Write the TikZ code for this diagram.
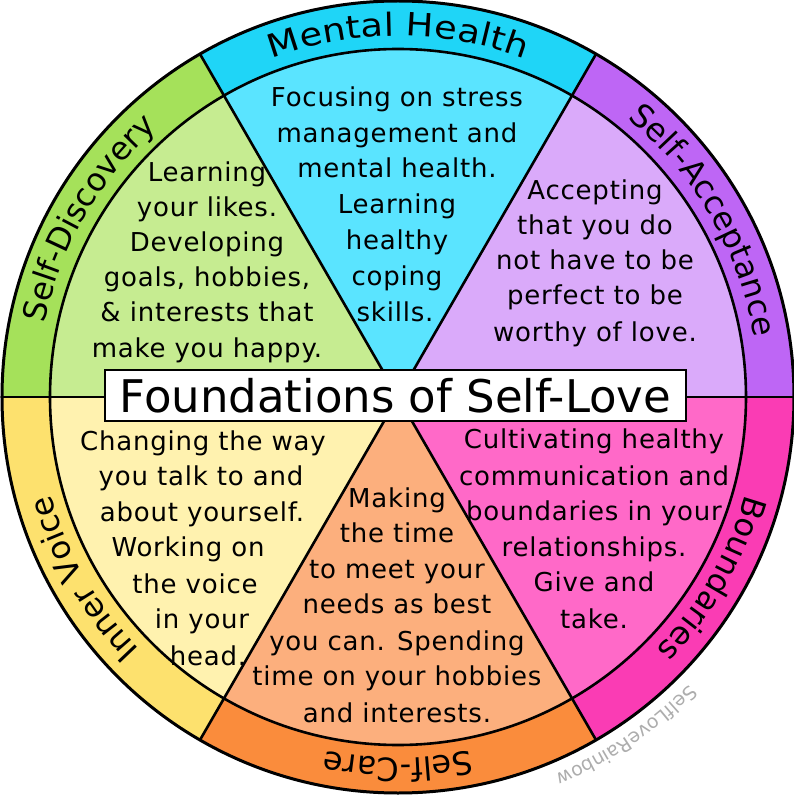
\documentclass[tikz,border=0pt]{standalone}
\usepackage{fontspec}
\setmainfont{DejaVu Sans}
\newfontfamily\bodyfam[LetterSpace=3]{DejaVu Sans}
\newfontfamily\ringfam{DejaVu Sans}
\newfontfamily\ringwidefam[FakeStretch=1.15]{DejaVu Sans}
\newcommand\bodyfont{\bodyfam\fontsize{26}{31}\selectfont}
\newcommand\ringfont{\ringfam\fontsize{32}{38}\selectfont}
\newcommand\ringwidefont{\ringwidefam\fontsize{32}{38}\selectfont}
\newcommand\titlefont{\fontsize{45}{50}\selectfont}
\newcommand\markfont{\fontsize{19}{22}\selectfont}
\usetikzlibrary{decorations.text}
\definecolor{mhring}{HTML}{1FD5F7}
\definecolor{mhin}{HTML}{5AE4FF}
\definecolor{saring}{HTML}{BE66F5}
\definecolor{sain}{HTML}{DAAAFA}
\definecolor{bdring}{HTML}{FA3CB4}
\definecolor{bdin}{HTML}{FF69C8}
\definecolor{scring}{HTML}{FA8C3C}
\definecolor{scin}{HTML}{FCAF7D}
\definecolor{ivring}{HTML}{FDE16E}
\definecolor{ivin}{HTML}{FFF2AF}
\definecolor{sdring}{HTML}{A5E15A}
\definecolor{sdin}{HTML}{C6EC91}
\tikzset{
  body/.style={font=\bodyfont, anchor=base, inner sep=0pt},
  outline/.style={draw=black, line width=2.6pt},
  ringlabel/.style={decorate, decoration={text along path, text align=center, text={|\ringfont|#1}}},
  ringlabelwide/.style={decorate, decoration={text along path, text align=center, text={|\ringwidefont|#1}}},
}
\newcommand\ringwedge[3]{%
  \fill[#3] (0,0) -- (#1:396) arc[start angle=#1, end angle=#2, radius=396pt] -- cycle;}
\newcommand\innerwedge[3]{%
  \fill[#3] (0,0) -- (#1:348) arc[start angle=#1, end angle=#2, radius=348pt] -- cycle;}
\begin{document}
\begin{tikzpicture}[x=1pt, y=1pt]
\useasboundingbox (-398,-401) rectangle (395,397);
\coordinate (O) at (0,0);
% sectors
\ringwedge{60}{120}{mhring}  \innerwedge{60}{120}{mhin}
\ringwedge{0}{60}{saring}    \innerwedge{0}{60}{sain}
\ringwedge{-60}{0}{bdring}   \innerwedge{-60}{0}{bdin}
\ringwedge{240}{300}{scring} \innerwedge{240}{300}{scin}
\ringwedge{180}{240}{ivring} \innerwedge{180}{240}{ivin}
\ringwedge{120}{180}{sdring} \innerwedge{120}{180}{sdin}
% circles and dividers
\draw[outline] (O) circle[radius=348pt];
\foreach \a in {0,60,...,300} \draw[outline] (O) -- (\a:396);
\draw[outline, line width=3pt] (O) circle[radius=396pt];
% title
\node[draw=black, line width=2.6pt, fill=white, minimum width=581pt, minimum height=51pt, inner sep=0pt, font=\titlefont] (title) at (-2.5,1.5) {Foundations of Self-Love};
% ring labels
\path[ringlabelwide={Mental Health}] (120:361) arc[start angle=120, end angle=60, radius=361pt];
\path[ringlabel={Self-Acceptance}] (60:361) arc[start angle=60, end angle=0, radius=361pt];
\path[ringlabel={Boundaries}] (0:361) arc[start angle=0, end angle=-60, radius=361pt];
\path[ringlabel={Self-Care}] (-60:361) arc[start angle=-60, end angle=-120, radius=361pt];
\path[ringlabel={Inner Voice}] (240:361) arc[start angle=240, end angle=180, radius=361pt];
\path[ringlabel={Self-Discovery}] (180:361) arc[start angle=180, end angle=120, radius=361pt];
% watermark
\path[decorate, decoration={text along path, text align=center, text color=black!32, text={|\markfont|SelfLoveRainbow}}] (-30:409) arc[start angle=-30, end angle=-82, radius=409pt];
% Self-Discovery
\node[body] (sd1) at (-191,215) {Learning};
\node[body] (sd2) at (-191,180) {your likes.};
\node[body] (sd3) at (-191,145) {Developing};
\node[body] (sd4) at (-191,110) {goals, hobbies,};
\node[body] (sd5) at (-191,75) {\& interests that};
\node[body] (sd6) at (-191,40) {make you happy.};
% Mental Health
\node[body] (mh1) at (-1,290) {Focusing on stress};
\node[body] (mh2) at (-1,254) {management and};
\node[body] (mh3) at (-1,219) {mental health.};
\node[body] (mh4) at (-1,183) {Learning};
\node[body] (mh5) at (-1,147) {healthy};
\node[body] (mh6) at (-1,111) {coping};
\node[body] (mh7) at (-3,75) {skills.};
% Self-Acceptance
\node[body] (sa1) at (197,197) {Accepting};
\node[body] (sa2) at (197,162) {that you do};
\node[body] (sa3) at (197,127) {not have to be};
\node[body] (sa4) at (197,92) {perfect to be};
\node[body] (sa5) at (197,56) {worthy of love.};
% Inner Voice
\node[body] (iv1) at (-195,-53) {Changing the way};
\node[body] (iv2) at (-197,-88) {you talk to and};
\node[body] (iv3) at (-196,-124) {about yourself.};
\node[body] (iv4) at (-210,-159) {Working on};
\node[body] (iv5) at (-203,-196) {the voice};
\node[body] (iv6) at (-196,-231) {in your};
\node[body] (iv7) at (-190,-268) {head.};
% Self-Care
\node[body] (sc1) at (-1,-110) {Making};
\node[body] (sc2) at (-1,-145) {the time};
\node[body] (sc3) at (-1,-181) {to meet your};
\node[body] (sc4) at (-1,-216) {needs as best};
\node[body] (sc5) at (-1,-253) {you can. Spending};
\node[body] (sc6) at (-1,-288) {time on your hobbies};
\node[body] (sc7) at (-1,-325) {and interests.};
% Boundaries
\node[body] (bd1) at (196,-51) {Cultivating healthy};
\node[body] (bd2) at (196,-88) {communication and};
\node[body] (bd3) at (196,-123) {boundaries in your};
\node[body] (bd4) at (196,-159) {relationships.};
\node[body] (bd5) at (196,-194) {Give and};
\node[body] (bd6) at (196,-231) {take.};
\end{tikzpicture}
\end{document}
